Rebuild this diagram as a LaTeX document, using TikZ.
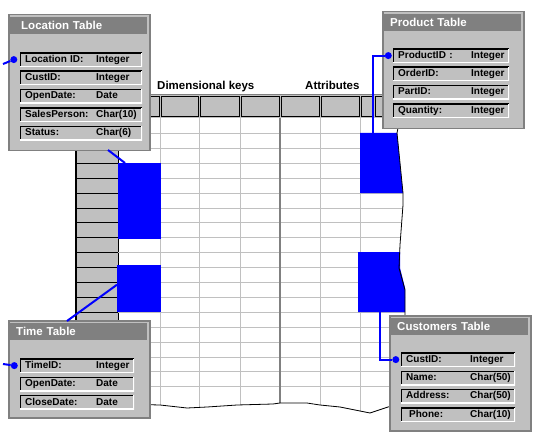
\documentclass[tikz,border=0pt]{standalone}
\usepackage{fontspec}
\setsansfont{Liberation Sans}
\usetikzlibrary{positioning,calc}

\definecolor{winGray}{HTML}{C0C0C0}
\definecolor{winDark}{HTML}{808080}
\definecolor{keyBlue}{HTML}{0000FF}

\def\keyw{71pt}
\newcommand{\frow}[2]{\makebox[\keyw][l]{#1}#2}

\begin{document}
\begin{tikzpicture}[x=1pt, y=-1pt,
    tbl/.style={rectangle, draw=winDark, fill=winGray, line width=1.5pt, anchor=north west, minimum width=141pt, inner sep=0pt},
    ttl/.style={rectangle, fill=winDark, text=white, anchor=north west, font=\sffamily\bfseries\fontsize{11.5}{13}\selectfont, text width=125pt, minimum height=17pt, inner xsep=6pt, inner ysep=0pt, align=left},
    fld/.style={rectangle, anchor=north west, minimum height=14pt, inner xsep=5pt, inner ysep=0pt, text width=#1, align=left, font=\sffamily\bfseries\fontsize{10}{12}\selectfont,
        path picture={
            \draw[black, line width=2pt] (path picture bounding box.south west) -- (path picture bounding box.north west) -- (path picture bounding box.north east);
            \draw[white, line width=2pt] (path picture bounding box.north east) -- (path picture bounding box.south east) -- (path picture bounding box.south west);
        }},
    fld/.default=112pt,
    dot/.style={circle, fill=keyBlue, inner sep=0pt, minimum size=7pt},
    keyfill/.style={rectangle, fill=keyBlue, anchor=north west, inner sep=0pt},
    link/.style={draw=keyBlue, line width=2pt},
    lbl/.style={font=\sffamily\bfseries\fontsize{11.5}{13}\selectfont, anchor=base west, inner sep=0pt}
]
    \useasboundingbox (0,0) rectangle (533,433);
    \fill[white] (0,0) rectangle (533,433);

    % spreadsheet: header row and row column
    \fill[winGray] (76,95) rectangle (398,118);
    \draw[winDark, line width=1pt] (76,95) -- (398,95);
    \foreach \a/\b in {76/118, 118/160, 160/199, 199/240, 240/280, 280/320, 320/360, 360/374, 374/398}
        \draw[black, line width=1pt] (\a+1,97) rectangle (\b-1,117);
    \fill[winGray] (76,118) rectangle (118,406);
    \foreach \k in {0,...,17}
        \draw[black, line width=1pt] (76,{133.5+14.9*\k}) -- (118,{133.5+14.9*\k});
    \draw[black, line width=2pt] (76,118) -- (76,406);
    \draw[black] (118,118) -- (118,406);

    % grid cells
    \begin{scope}
        \clip (118,118) -- (398,118) -- (397,133) -- (403,193) -- (403,205) -- (400,245) -- (399,268) -- (405,290) -- (405,406)
            -- (388,407) -- (370,413) -- (340,407) -- (320,405) -- (307,403) -- (280,403) -- (273,404) -- (237,405)
            -- (207,407) -- (187,408) -- (160,405) -- (118,404) -- cycle;
        \foreach \k in {0,...,17}
            \draw[winGray, line width=1pt] (118,{133.5+14.9*\k}) -- (410,{133.5+14.9*\k});
        \foreach \c in {160,199,240,320,360}
            \draw[winGray, line width=1pt] (\c,118) -- (\c,420);
        \draw[winDark, line width=2pt] (280,118) -- (280,420);
    \end{scope}

    % blue key and attribute blocks
    \node[keyfill, minimum width=43pt, minimum height=76pt] (keyA) at (118,163) {};
    \node[keyfill, minimum width=44pt, minimum height=47pt] (keyB) at (117,265) {};
    \fill[keyBlue] (360,133) -- (397,133) -- (403,193) -- (360,193) -- cycle;
    \fill[keyBlue] (358,252) -- (400,252) -- (400,268) -- (405,288) -- (405,312) -- (358,312) -- cycle;
    \coordinate (attrA) at (373,133);
    \coordinate (attrB) at (380,312);

    % torn edges
    \draw[black, line width=0.8pt] (398,118) -- (398,128) -- (397,133) -- (403,193) -- (403,205) -- (400,245) -- (399,268) -- (405,290) -- (405,330);
    \draw[black, line width=0.8pt] (392,406) -- (388,407) -- (370,413) -- (340,407) -- (320,405) -- (307,403) -- (280,403) -- (273,404)
        -- (237,405) -- (207,407) -- (187,408) -- (160,405) -- (120,404);

    \node[lbl] (dimlbl) at (157,90) {Dimensional keys};
    \node[lbl] (attrlbl) at (305,90) {Attributes};

    % Location table
    \def\keyw{71pt}
    \node[tbl, minimum height=136pt] (loc) at (8,14) {};
    \node[ttl] (loctitle) at ([xshift=2pt, yshift=-3pt]loc.north west) {\hspace{5pt}Location Table};
    \node[fld=112pt] (locid) at ([xshift=10pt, yshift=-18pt]loctitle.south west) {\frow{Location ID:}{Integer}};
    \node[fld=112pt, below=4pt of locid] (loccust) {\frow{CustID:}{Integer}};
    \node[fld=112pt, below=4pt of loccust] (locopen) {\frow{OpenDate:}{Date}};
    \node[fld=112pt, below=4pt of locopen] (locsales) {\frow{SalesPerson:}{Char(10)}};
    \node[fld=112pt, below=4pt of locsales] (locstatus) {\frow{Status:}{Char(6)}};
    \node[dot, left=2.5pt of locid] (locdot) {};
    \coordinate (loctip) at (3,64);
    \coordinate (locfoot) at (108,150);

    % Product table
    \def\keyw{73pt}
    \node[tbl, minimum height=117pt] (prod) at (382,11) {};
    \node[ttl] (prodtitle) at ([xshift=2pt, yshift=-3pt]prod.north west) {Product Table};
    \node[fld=106pt] (prodid) at ([xshift=9pt, yshift=-17pt]prodtitle.south west) {\frow{ProductID :}{Integer}};
    \node[fld=106pt, below=4pt of prodid] (prodorder) {\frow{OrderID:}{Integer}};
    \node[fld=106pt, below=4pt of prodorder] (prodpart) {\frow{PartID:}{Integer}};
    \node[fld=106pt, below=4pt of prodpart] (prodqty) {\frow{Quantity:}{Integer}};
    \node[dot, left=1pt of prodid] (proddot) {};

    % Time table
    \def\keyw{71pt}
    \node[tbl, minimum height=97pt] (time) at (8,320) {};
    \node[ttl] (timetitle) at ([xshift=2pt, yshift=-3pt]time.north west) {Time Table};
    \node[fld=104pt] (timeid) at ([xshift=10pt, yshift=-18pt]timetitle.south west) {\frow{TimeID:}{Integer}};
    \node[fld=104pt, below=4pt of timeid] (timeopen) {\frow{OpenDate:}{Date}};
    \node[fld=104pt, below=4pt of timeopen] (timeclose) {\frow{CloseDate:}{Date}};
    \node[dot, left=2pt of timeid] (timedot) {};
    \coordinate (timetip) at (3,364);
    \coordinate (timehead) at (67,321);

    % Customers table
    \def\keyw{64pt}
    \node[tbl, minimum height=115pt] (cust) at (389,315) {};
    \node[ttl] (custtitle) at ([xshift=2pt, yshift=-3pt]cust.north west) {Customers Table};
    \node[fld=104pt] (custid) at ([xshift=10pt, yshift=-17pt]custtitle.south west) {\frow{CustID:}{Integer}};
    \node[fld=104pt, below=4pt of custid] (custname) {\frow{Name:}{Char(50)}};
    \node[fld=104pt, below=4pt of custname] (custaddr) {\frow{Address:}{Char(50)}};
    \node[fld=104pt, below=4pt of custaddr] (custphone) {\frow{\hspace{3pt}Phone:}{Char(10)}};
    \node[dot, left=1.5pt of custid] (custdot) {};

    % links
    \draw[link] (locdot) -- (loctip);
    \draw[link] (locfoot) -- ([xshift=7pt]keyA.north west);
    \draw[link] (timedot) -- (timetip);
    \draw[link] ([yshift=4pt]keyB.west) -- (timehead);
    \draw[link] (proddot) -| (attrA);
    \draw[link] (custdot) -| (attrB);
\end{tikzpicture}
\end{document}
